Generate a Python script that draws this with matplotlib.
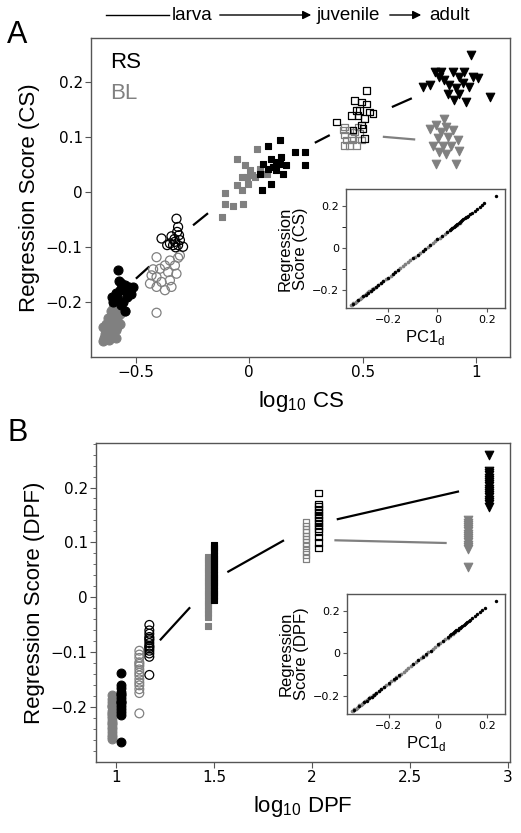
import numpy as np
import matplotlib
matplotlib.use("Agg")
import matplotlib.pyplot as plt
from matplotlib.ticker import FuncFormatter, MultipleLocator

# colours for the two groups
RS_COLOR = "black"
BL_COLOR = "#808080"

# ---------------- Panel A data (log10 CS vs regression score) ----------------
# stage 1: filled circles
a1_rs_x = [-0.578, -0.575, -0.565, -0.56, -0.55, -0.545, -0.53, -0.515, -0.52, -0.54, -0.57, -0.585, -0.6, -0.607, -0.555, -0.565, -0.59, -0.548]
a1_rs_y = [-0.141, -0.162, -0.165, -0.172, -0.168, -0.18, -0.172, -0.172, -0.185, -0.19, -0.178, -0.19, -0.2, -0.19, -0.2, -0.205, -0.183, -0.215]
a1_bl_x = [-0.64, -0.635, -0.63, -0.625, -0.62, -0.615, -0.61, -0.605, -0.6, -0.595, -0.59, -0.585, -0.58, -0.575, -0.57,
           -0.565, -0.56, -0.555, -0.62, -0.6, -0.59, -0.58, -0.57, -0.63, -0.61, -0.597, -0.567, -0.612, -0.645, -0.582,
           -0.645, -0.625, -0.6, -0.57, -0.59, -0.55]
a1_bl_y = [-0.265, -0.258, -0.262, -0.25, -0.245, -0.255, -0.235, -0.24, -0.228, -0.238, -0.22, -0.225, -0.215, -0.21, -0.205,
           -0.2, -0.198, -0.195, -0.268, -0.262, -0.25, -0.235, -0.222, -0.24, -0.215, -0.205, -0.185, -0.23, -0.27, -0.245,
           -0.245, -0.228, -0.21, -0.24, -0.265, -0.215]
# stage 2: open circles
a2_rs_x = [-0.321, -0.314, -0.318, -0.387, -0.343, -0.328, -0.306, -0.292, -0.35, -0.336, -0.314, -0.362, -0.33, -0.31, -0.325]
a2_rs_y = [-0.048, -0.063, -0.072, -0.084, -0.08, -0.09, -0.087, -0.099, -0.093, -0.096, -0.096, -0.096, -0.085, -0.078, -0.1]
a2_bl_x = [-0.409, -0.35, -0.314, -0.372, -0.328, -0.394, -0.431, -0.358, -0.321, -0.409, -0.438, -0.387, -0.35, -0.372, -0.409,
           -0.343, -0.409, -0.306, -0.424]
a2_bl_y = [-0.118, -0.124, -0.119, -0.133, -0.133, -0.139, -0.151, -0.145, -0.148, -0.154, -0.166, -0.163, -0.16, -0.178, -0.172,
           -0.172, -0.219, -0.115, -0.14]
# stage 3: filled squares
a3_rs_x = [0.083, 0.134, 0.098, 0.12, 0.061, 0.142, 0.164, 0.2, 0.244, 0.244, 0.083, 0.12, 0.149, 0.046, 0.098, 0.054, 0.134, 0.105]
a3_rs_y = [0.085, 0.095, 0.061, 0.055, 0.052, 0.064, 0.049, 0.073, 0.073, 0.049, 0.043, 0.04, 0.034, 0.034, 0.016, 0.004, 0.052, 0.046]
a3_bl_x = [-0.056, 0.032, -0.02, 0.002, -0.034, 0.046, 0.01, 0.024, -0.056, -0.108, -0.034, -0.108, -0.071, -0.027, -0.122,
           0.076, -0.005, -0.012]
a3_bl_y = [0.061, 0.078, 0.049, 0.04, 0.028, 0.043, 0.031, 0.028, 0.013, -0.002, 0.004, -0.021, -0.025, -0.021, -0.044,
           0.034, 0.016, 0.028]
# stage 4: open squares
a4_rs_x = [0.516, 0.465, 0.494, 0.516, 0.487, 0.531, 0.45, 0.479, 0.509, 0.545, 0.384, 0.494, 0.509, 0.457, 0.501, 0.472]
a4_rs_y = [0.185, 0.167, 0.164, 0.161, 0.149, 0.146, 0.14, 0.14, 0.134, 0.143, 0.128, 0.122, 0.098, 0.113, 0.116, 0.149]
a4_bl_x = [0.421, 0.443, 0.465, 0.421, 0.45, 0.487, 0.421, 0.443, 0.472, 0.428, 0.457, 0.494, 0.413, 0.479]
a4_bl_y = [0.119, 0.113, 0.11, 0.104, 0.1, 0.107, 0.085, 0.085, 0.085, 0.095, 0.095, 0.095, 0.113, 0.119]
# stage 5: filled triangles
a5_rs_x = [0.979, 0.766, 0.795, 0.817, 0.839, 0.861, 0.898, 0.927, 0.949, 0.986, 1.008, 0.883, 0.913, 0.942, 0.971,
           0.905, 0.957, 1.06, 0.876, 0.927, 0.847]
a5_rs_y = [0.249, 0.191, 0.195, 0.219, 0.21, 0.204, 0.219, 0.21, 0.219, 0.21, 0.207, 0.195, 0.189, 0.198, 0.191,
           0.167, 0.164, 0.173, 0.179, 0.179, 0.219]
a5_bl_x = [0.861, 0.825, 0.869, 0.795, 0.847, 0.898, 0.832, 0.876, 0.92, 0.81, 0.854, 0.891, 0.927, 0.825, 0.913, 0.869, 0.839]
a5_bl_y = [0.134, 0.122, 0.119, 0.116, 0.11, 0.113, 0.098, 0.1, 0.095, 0.085, 0.085, 0.085, 0.076, 0.052, 0.052, 0.07, 0.073]

# trend line pieces drawn between clusters (x0, x1, y0, y1)
a_seg_rs = [(-0.5, -0.441, -0.157, -0.135), (-0.248, -0.182, -0.060, -0.038),
            (0.289, 0.355, 0.090, 0.104), (0.629, 0.717, 0.155, 0.171)]
a_seg_bl = [(0.589, 0.732, 0.101, 0.096)]

# ---------------- Panel B data (log10 DPF vs regression score) ----------------
b_x_rs = [1.024, 1.17, 1.502, 2.032, 2.905]
b_x_bl = [0.978, 1.119, 1.468, 1.969, 2.798]
b1_rs_y = [-0.137, -0.16, -0.165, -0.172, -0.178, -0.183, -0.188, -0.192, -0.197, -0.203, -0.208, -0.214, -0.263, -0.175, -0.19]
b1_bl_y = [-0.178, -0.185, -0.19, -0.196, -0.2, -0.206, -0.21, -0.216, -0.22, -0.224, -0.231, -0.236, -0.24, -0.244, -0.251,
           -0.254, -0.258, -0.198, -0.212, -0.228]
b2_rs_y = [-0.05, -0.06, -0.066, -0.072, -0.078, -0.083, -0.088, -0.093, -0.097, -0.102, -0.108, -0.141, -0.075, -0.09]
b2_bl_y = [-0.097, -0.104, -0.11, -0.118, -0.125, -0.131, -0.137, -0.142, -0.149, -0.155, -0.16, -0.167, -0.174, -0.211, -0.121]
b3_rs_y = [0.095, 0.09, 0.085, 0.078, 0.072, 0.066, 0.06, 0.055, 0.049, 0.043, 0.037, 0.031, 0.026, 0.02, 0.014, 0.008,
           -0.005, 0.002]
b3_bl_y = [0.074, 0.068, 0.062, 0.056, 0.05, 0.044, 0.038, 0.032, 0.026, 0.02, 0.014, 0.008, 0.002, -0.004, -0.01, -0.016,
           -0.022, -0.029, -0.035, -0.052]
b4_rs_y = [0.19, 0.17, 0.165, 0.16, 0.155, 0.15, 0.145, 0.14, 0.135, 0.13, 0.125, 0.12, 0.11, 0.1, 0.09]
b4_bl_y = [0.136, 0.13, 0.124, 0.118, 0.112, 0.106, 0.1, 0.094, 0.085, 0.078, 0.071]
b5_rs_y = [0.259, 0.23, 0.226, 0.222, 0.218, 0.214, 0.21, 0.206, 0.202, 0.198, 0.194, 0.19, 0.186, 0.182, 0.178, 0.174,
           0.17, 0.165]
b5_bl_y = [0.14, 0.136, 0.132, 0.128, 0.124, 0.12, 0.116, 0.112, 0.108, 0.104, 0.1, 0.096, 0.092, 0.088, 0.055]

b_seg_rs = [(1.224, 1.378, -0.078, -0.018), (1.568, 1.857, 0.046, 0.104), (2.126, 2.75, 0.142, 0.193)]
b_seg_bl = [(2.114, 2.687, 0.104, 0.099)]

# ---------------- inset data (PC1_d vs regression score) ----------------
ins_bl_pc = [-0.35, -0.345, -0.34, -0.335, -0.33, -0.325, -0.32, -0.315, -0.31, -0.305, -0.3, -0.295, -0.29, -0.285,
             -0.28, -0.275, -0.27, -0.265, -0.26, -0.255, -0.25, -0.24, -0.23, -0.22, -0.21, -0.2, -0.19, -0.18,
             -0.17, -0.16, -0.15, -0.14, -0.13, -0.12, -0.11, -0.1, -0.09, -0.08, -0.07, -0.06, -0.05, -0.04,
             -0.03, -0.02, -0.01, 0.0, 0.01, 0.02, 0.03, 0.04, 0.05, 0.06, 0.07, 0.08, 0.09]
ins_bl_sc = [-0.273, -0.27, -0.262, -0.26, -0.255, -0.251, -0.245, -0.242, -0.237, -0.234, -0.228, -0.225, -0.219,
             -0.216, -0.21, -0.206, -0.203, -0.197, -0.194, -0.189, -0.185, -0.177, -0.167, -0.159, -0.149, -0.142,
             -0.132, -0.124, -0.113, -0.105, -0.095, -0.087, -0.077, -0.069, -0.059, -0.05, -0.042, -0.032, -0.024,
             -0.014, -0.006, 0.004, 0.012, 0.021, 0.03, 0.04, 0.048, 0.057, 0.066, 0.074, 0.083, 0.092, 0.101,
             0.109, 0.118]
ins_rs_pc = [-0.34, -0.32, -0.3, -0.29, -0.28, -0.27, -0.26, -0.25, -0.24, -0.23, -0.22, -0.2, -0.18, -0.17, -0.16,
             -0.1, -0.08, -0.06, -0.05, -0.03, 0.0, 0.02, 0.04, 0.05, 0.055, 0.06, 0.065, 0.07, 0.075, 0.08,
             0.085, 0.09, 0.095, 0.1, 0.105, 0.11, 0.115, 0.12, 0.125, 0.13, 0.14, 0.15, 0.16, 0.17, 0.18, 0.19,
             0.235]
ins_rs_sc = [-0.266, -0.247, -0.229, -0.222, -0.212, -0.204, -0.194, -0.186, -0.176, -0.168, -0.158, -0.141, -0.122,
             -0.115, -0.104, -0.05, -0.033, -0.015, -0.005, 0.013, 0.042, 0.058, 0.077, 0.086, 0.09, 0.095, 0.099,
             0.104, 0.108, 0.112, 0.117, 0.121, 0.126, 0.13, 0.135, 0.139, 0.144, 0.148, 0.153, 0.158, 0.166,
             0.175, 0.184, 0.193, 0.202, 0.211, 0.245]

stage_names = ["larva", "juvenile", "adult"]


def fmt(v, pos):
    s = f"{v:g}"
    return s.replace("-", "\u2212")


def style_axes(ax, label_size=11):
    for sp in ax.spines.values():
        sp.set_color("#555555")
        sp.set_linewidth(1.0)
    ax.tick_params(direction="out", length=4, width=0.8, color="#555555", labelsize=label_size, pad=2)
    ax.xaxis.set_major_formatter(FuncFormatter(fmt))
    ax.yaxis.set_major_formatter(FuncFormatter(fmt))
    for t in ax.get_xticklabels() + ax.get_yticklabels():
        t.set_fontfamily("DejaVu Sans")


def draw_segments(ax, segs, color):
    for x0, x1, y0, y1 in segs:
        ax.plot([x0, x1], [y0, y1], color=color, lw=1.6, solid_capstyle="butt")


def cluster(ax, x, y, marker, color, filled, size):
    if filled:
        ax.scatter(x, y, marker=marker, s=size, facecolors=color, edgecolors=color, linewidths=0.8, zorder=3)
    else:
        ax.scatter(x, y, marker=marker, s=size, facecolors="none", edgecolors=color, linewidths=0.9, zorder=3)


def inset(fig, rect, ylabel):
    ax = fig.add_axes(rect)
    ax.scatter(ins_bl_pc, ins_bl_sc, s=7, color=BL_COLOR, linewidths=0, zorder=3)
    ax.scatter(ins_rs_pc, ins_rs_sc, s=6, color=RS_COLOR, linewidths=0, zorder=3)
    ax.set_xlim(-0.37, 0.273)
    ax.set_ylim(-0.285, 0.279)
    ax.set_xticks([-0.2, 0, 0.2])
    ax.set_yticks([-0.2, 0, 0.2])
    ax.yaxis.set_minor_locator(MultipleLocator(0.1))
    style_axes(ax, label_size=8)
    ax.tick_params(which="both", length=3)
    ax.set_xlabel("PC1$_\\mathregular{d}$", fontsize=12, family="Liberation Sans", labelpad=2)
    ax.set_ylabel(ylabel, fontsize=12, family="Liberation Sans", labelpad=3, linespacing=1.0)
    return ax


fig = plt.figure(figsize=(5.21, 8.33), dpi=100)

# ================= Panel A =================
axA = fig.add_axes([0.1747, 0.5714, 0.8042, 0.383])
cluster(axA, a1_bl_x, a1_bl_y, "o", BL_COLOR, True, 42)
cluster(axA, a1_rs_x, a1_rs_y, "o", RS_COLOR, True, 42)
cluster(axA, a2_bl_x, a2_bl_y, "o", BL_COLOR, False, 42)
cluster(axA, a2_rs_x, a2_rs_y, "o", RS_COLOR, False, 42)
cluster(axA, a3_bl_x, a3_bl_y, "s", BL_COLOR, True, 20)
cluster(axA, a3_rs_x, a3_rs_y, "s", RS_COLOR, True, 20)
cluster(axA, a4_bl_x, a4_bl_y, "s", BL_COLOR, False, 22)
cluster(axA, a4_rs_x, a4_rs_y, "s", RS_COLOR, False, 22)
cluster(axA, a5_rs_x, a5_rs_y, "v", RS_COLOR, True, 38)
cluster(axA, a5_bl_x, a5_bl_y, "v", BL_COLOR, True, 38)
draw_segments(axA, a_seg_rs, RS_COLOR)
draw_segments(axA, a_seg_bl, BL_COLOR)
axA.set_xlim(-0.698, 1.15)
axA.set_ylim(-0.2995, 0.2806)
axA.set_xticks([-0.5, 0, 0.5, 1])
axA.set_yticks([-0.2, -0.1, 0, 0.1, 0.2])
style_axes(axA)
axA.set_xlabel("log$_\\mathregular{10}$ CS", fontsize=16, family="Liberation Sans", labelpad=6)
axA.set_ylabel("Regression Score (CS)", fontsize=16, family="Liberation Sans", labelpad=4)
axA.text(0.045, 0.955, "RS", transform=axA.transAxes, fontsize=16, family="Liberation Sans",
         color=RS_COLOR, va="top", ha="left")
axA.text(0.045, 0.86, "BL", transform=axA.transAxes, fontsize=16, family="Liberation Sans",
         color=BL_COLOR, va="top", ha="left")
inset(fig, [0.6641, 0.6303, 0.3052, 0.1429], "Regression\nScore (CS)")

# ================= Panel B =================
axB = fig.add_axes([0.1843, 0.0852, 0.7946, 0.383])
b_groups = [
    (b1_bl_y, b1_rs_y, "o", True, 40),
    (b2_bl_y, b2_rs_y, "o", False, 40),
    (b3_bl_y, b3_rs_y, "s", True, 20),
    (b4_bl_y, b4_rs_y, "s", False, 22),
    (b5_bl_y, b5_rs_y, "v", True, 38),
]
for i, (bl_y, rs_y, mk, filled, sz) in enumerate(b_groups):
    cluster(axB, [b_x_bl[i]] * len(bl_y), bl_y, mk, BL_COLOR, filled, sz)
    cluster(axB, [b_x_rs[i]] * len(rs_y), rs_y, mk, RS_COLOR, filled, sz)
draw_segments(axB, b_seg_rs, RS_COLOR)
draw_segments(axB, b_seg_bl, BL_COLOR)
axB.set_xlim(0.898, 3.01)
axB.set_ylim(-0.2995, 0.281)
axB.set_xticks([1, 1.5, 2, 2.5, 3])
axB.set_yticks([-0.2, -0.1, 0, 0.1, 0.2])
axB.yaxis.set_minor_locator(MultipleLocator(0.02))
style_axes(axB)
axB.tick_params(which="minor", length=2.5, color="#555555")
axB.set_xlabel("log$_\\mathregular{10}$ DPF", fontsize=16, family="Liberation Sans", labelpad=6)
axB.set_ylabel("Regression Score (DPF)", fontsize=16, family="Liberation Sans", labelpad=4)
inset(fig, [0.666, 0.1429, 0.3033, 0.144], "Regression\nScore (DPF)")

# panel letters
fig.text(7 / 521, 1 - 43 / 833, "A", fontsize=22, family="Liberation Sans", ha="left", va="baseline")
fig.text(7 / 521, 1 - 441 / 833, "B", fontsize=22, family="Liberation Sans", ha="left", va="baseline")

# developmental stage arrows along the top
ytop = 1 - 15 / 833
fig.text(192 / 521, ytop, stage_names[0], fontsize=13.5, family="Liberation Sans", ha="center", va="center")
fig.text(348 / 521, ytop, stage_names[1], fontsize=13.5, family="Liberation Sans", ha="center", va="center")
fig.text(450 / 521, ytop, stage_names[2], fontsize=13.5, family="Liberation Sans", ha="center", va="center")
fig.add_artist(plt.Line2D([106 / 521, 169 / 521], [ytop, ytop], color="black", lw=1.0, transform=fig.transFigure))
for x0, x1 in [(217, 314), (387, 424)]:
    fig.patches.append(matplotlib.patches.FancyArrowPatch(
        (x0 / 521, ytop), (x1 / 521, ytop), transform=fig.transFigure,
        arrowstyle="-|>,head_length=5,head_width=2.5", color="black", lw=1.0, figure=fig))

fig.savefig("out.png", dpi=100)
